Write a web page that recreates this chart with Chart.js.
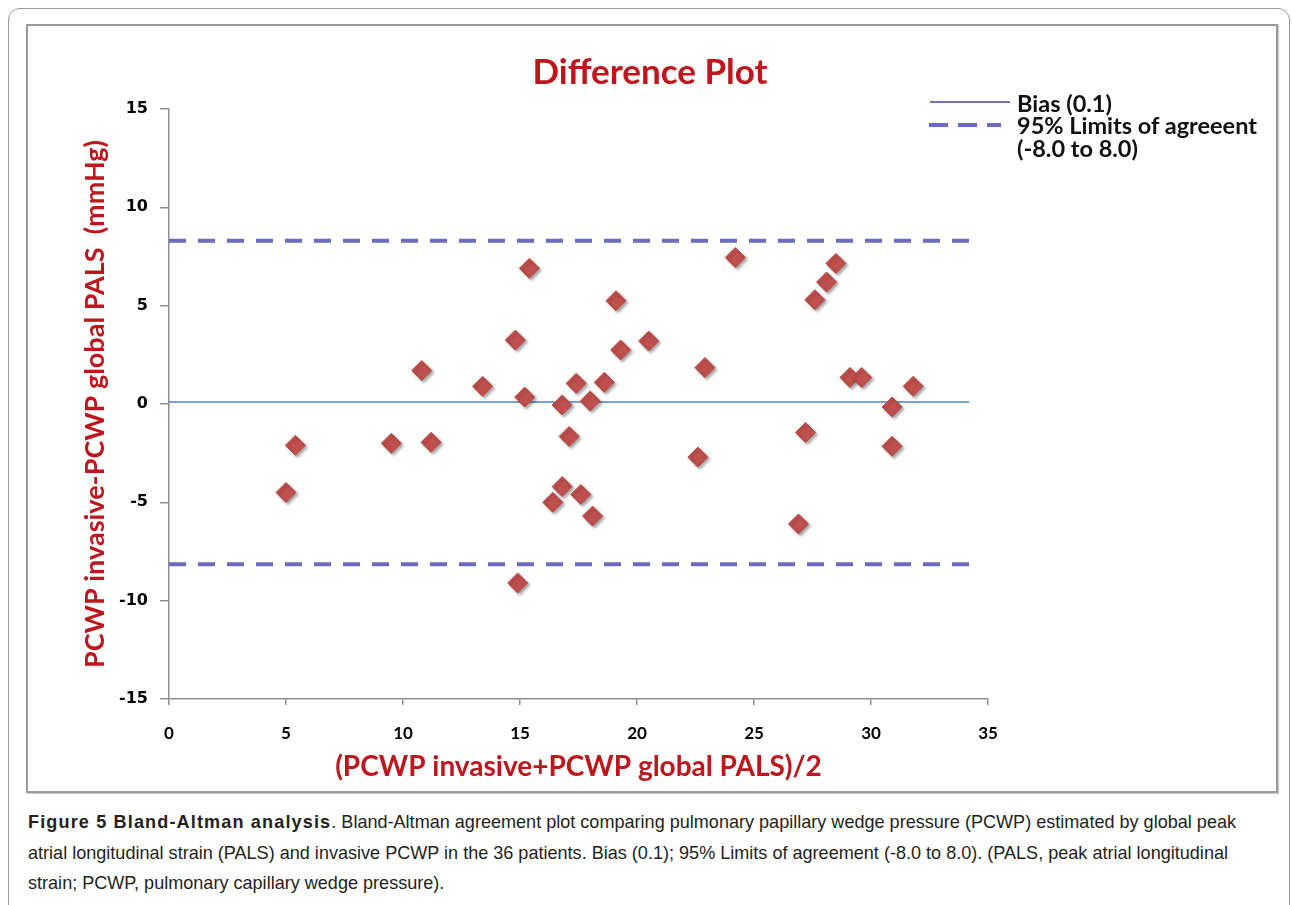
<!DOCTYPE html>
<html>
<head>
<meta charset="utf-8">
<title>Difference Plot</title>
<script src="https://cdn.jsdelivr.net/npm/chart.js@4.4.1/dist/chart.umd.min.js"></script>
<style>
    html, body { margin: 0; padding: 0; background: #fff; }
    body { width: 1292px; height: 905px; position: relative; overflow: hidden; }
    .outer { position: absolute; left: 8px; top: 8px; width: 1280px; height: 1000px; border: 1px solid #9a9a9a; border-radius: 12px; }
    .frame { position: absolute; left: 26px; top: 24px; width: 1248px; height: 765px; border: 2px solid #9b9b9b; box-shadow: 1px 1px 1px #cfcfcf; background: #fff; }
    .chart-box { position: absolute; left: 27px; top: 25px; width: 1249px; height: 766px; }
    .chart-title { position: absolute; left: 450px; width: 400px; top: 48px; text-align: center; font-family: Lato, sans-serif; font-weight: bold; font-size: 35px; line-height: 44px; color: #bf151d; white-space: nowrap; }
    .legend-text { position: absolute; left: 1017px; font-family: Lato, sans-serif; font-weight: bold; font-size: 23.5px; line-height: 24px; color: #111; white-space: nowrap; }
    .caption { position: absolute; left: 28px; top: 807px; font-family: "Liberation Sans", sans-serif; font-size: 19px; line-height: 30.5px; color: #231f20; white-space: nowrap; transform-origin: 0 0; }
    .caption span { display: inline-block; }
    .caption b { letter-spacing: 1.2px; }
</style>
</head>
<body>
<div class="outer"></div>
<div class="frame"></div>
<div class="chart-box"><canvas id="baChart"></canvas></div>
<div class="chart-title">Difference Plot</div>

<!-- leyenda -->
<svg style="position:absolute;left:925px;top:95px" width="90" height="40">
    <line x1="5" y1="7" x2="85" y2="7" stroke="#7373c3" stroke-width="2"/>
    <line x1="4" y1="30" x2="76" y2="30" stroke="#6b6bc0" stroke-width="4" stroke-dasharray="19 10"/>
</svg>
<div class="legend-text" style="top:91px">Bias (0.1)</div>
<div class="legend-text" style="top:113px">95% Limits of agreeent</div>
<div class="legend-text" style="top:136px">(-8.0 to 8.0)</div>

<div class="caption" id="caption"><span><b>Figure 5 Bland-Altman analysis</b>. Bland-Altman agreement plot comparing pulmonary papillary wedge pressure (PCWP) estimated by global peak</span><br><span id="capLine2">atrial longitudinal strain (PALS) and invasive PCWP in the 36 patients. Bias (0.1); 95% Limits of agreement (-8.0 to 8.0). (PALS, peak atrial longitudinal</span><br><span>strain; PCWP, pulmonary capillary wedge pressure).</span></div>

<script>
// --- DATOS ---
const meanValues = [5.0, 5.4, 9.5, 10.8, 11.2, 13.4, 14.8, 14.9, 15.2, 15.4,
    16.4, 16.8, 16.8, 17.1, 17.4, 17.6, 18.0, 18.1, 18.6, 19.1,
    19.3, 20.5, 22.6, 22.9, 24.2, 26.9, 27.2, 27.6, 28.1, 28.5,
    29.1, 29.6, 30.9, 30.9, 31.8];
const diffValues = [-4.5, -2.1, -2.0, 1.7, -1.95, 0.9, 3.25, -9.1, 0.35, 6.9,
    -5.0, -0.05, -4.2, -1.65, 1.05, -4.6, 0.15, -5.7, 1.1, 5.25,
    2.75, 3.2, -2.7, 1.85, 7.45, -6.1, -1.45, 5.3, 6.2, 7.15,
    1.35, 1.35, -0.15, -2.15, 0.9];

const biasValue = 0.1;
const upperLimit = 8.3;
const lowerLimit = -8.15;
const lineRange = [0, 34.2];

const xTicks = [0, 5, 10, 15, 20, 25, 30, 35];
const yTicks = [-15, -10, -5, 0, 5, 10, 15];

const titleRed = '#bf151d';
const axisGray = '#8e8e8e';

const points = meanValues.map((m, i) => ({ x: m, y: diffValues[i] }));
const hLine = v => lineRange.map(x => ({ x: x, y: v }));

// ajustar el ancho del pie de figura (fuente condensada en el original)
const cap = document.getElementById('caption');
const line2 = document.getElementById('capLine2');
cap.style.transform = `scaleX(${1200 / line2.getBoundingClientRect().width})`;

// sombra de los rombos
const shadowPlugin = {
    id: 'diamondShadow',
    beforeDatasetDraw(chart, args) {
        if (args.index !== 0) return;
        const c = chart.ctx;
        c.save();
        c.shadowColor = 'rgba(0,0,0,0.35)';
        c.shadowOffsetX = 2;
        c.shadowOffsetY = 2;
        c.shadowBlur = 3;
    },
    afterDatasetDraw(chart, args) {
        if (args.index !== 0) return;
        chart.ctx.restore();
    }
};

const ctx = document.getElementById('baChart').getContext('2d');
new Chart(ctx, {
    type: 'scatter',
    data: {
        datasets: [
            {
                label: 'Patients',
                data: points,
                pointStyle: 'rectRot',
                pointRadius: 10,
                backgroundColor: '#c0504d',
                borderColor: '#b84845',
                borderWidth: 1
            },
            {
                type: 'line',
                label: 'Bias (0.1)',
                data: hLine(biasValue),
                borderColor: '#4f81bd',
                borderWidth: 1.5,
                pointRadius: 0,
                fill: false
            },
            {
                type: 'line',
                label: 'Upper limit',
                data: hLine(upperLimit),
                borderColor: '#6b6bc0',
                borderWidth: 4,
                borderDash: [17, 12],
                pointRadius: 0,
                fill: false
            },
            {
                type: 'line',
                label: 'Lower limit',
                data: hLine(lowerLimit),
                borderColor: '#6b6bc0',
                borderWidth: 4,
                borderDash: [17, 12],
                pointRadius: 0,
                fill: false
            }
        ]
    },
    options: {
        responsive: true,
        maintainAspectRatio: false,
        animation: false,
        layout: { padding: { left: 0, right: 288, top: 84, bottom: 0 } },
        plugins: {
            legend: { display: false },
            tooltip: { enabled: false },
            title: { display: false }
        },
        scales: {
            x: {
                type: 'linear',
                min: 0,
                max: 35,
                afterFit: scale => { scale.height = 92; },
                afterBuildTicks: scale => { scale.ticks = xTicks.map(v => ({ value: v })); },
                ticks: {
                    color: '#000',
                    padding: 18,
                    font: { family: 'Lato', size: 17, weight: 'bold' }
                },
                grid: { drawOnChartArea: false, drawTicks: true, tickLength: 6, color: axisGray, lineWidth: 1.5 },
                border: { color: axisGray, width: 1.5 },
                title: {
                    display: true,
                    text: '(PCWP invasive+PCWP global PALS)/2',
                    color: titleRed,
                    font: { family: 'Lato', size: 28, weight: 'bold', lineHeight: 1.2 },
                    padding: { top: 0, bottom: 7 }
                }
            },
            y: {
                min: -15,
                max: 15,
                afterFit: scale => { scale.width = 142; },
                afterBuildTicks: scale => { scale.ticks = yTicks.map(v => ({ value: v })); },
                ticks: {
                    color: '#000',
                    padding: 12,
                    font: { family: 'DejaVu Sans', size: 16, weight: 'bold' }
                },
                grid: { drawOnChartArea: false, drawTicks: true, tickLength: 9, color: axisGray, lineWidth: 1.5 },
                border: { color: axisGray, width: 1.5 },
                title: {
                    display: true,
                    text: 'PCWP invasive-PCWP global PALS  (mmHg)',
                    color: titleRed,
                    font: { family: 'Lato', size: 27, weight: 'bold', lineHeight: 1.2 },
                    padding: { top: 52, bottom: 0 }
                }
            }
        }
    },
    plugins: [shadowPlugin]
});
</script>
</body>
</html>
